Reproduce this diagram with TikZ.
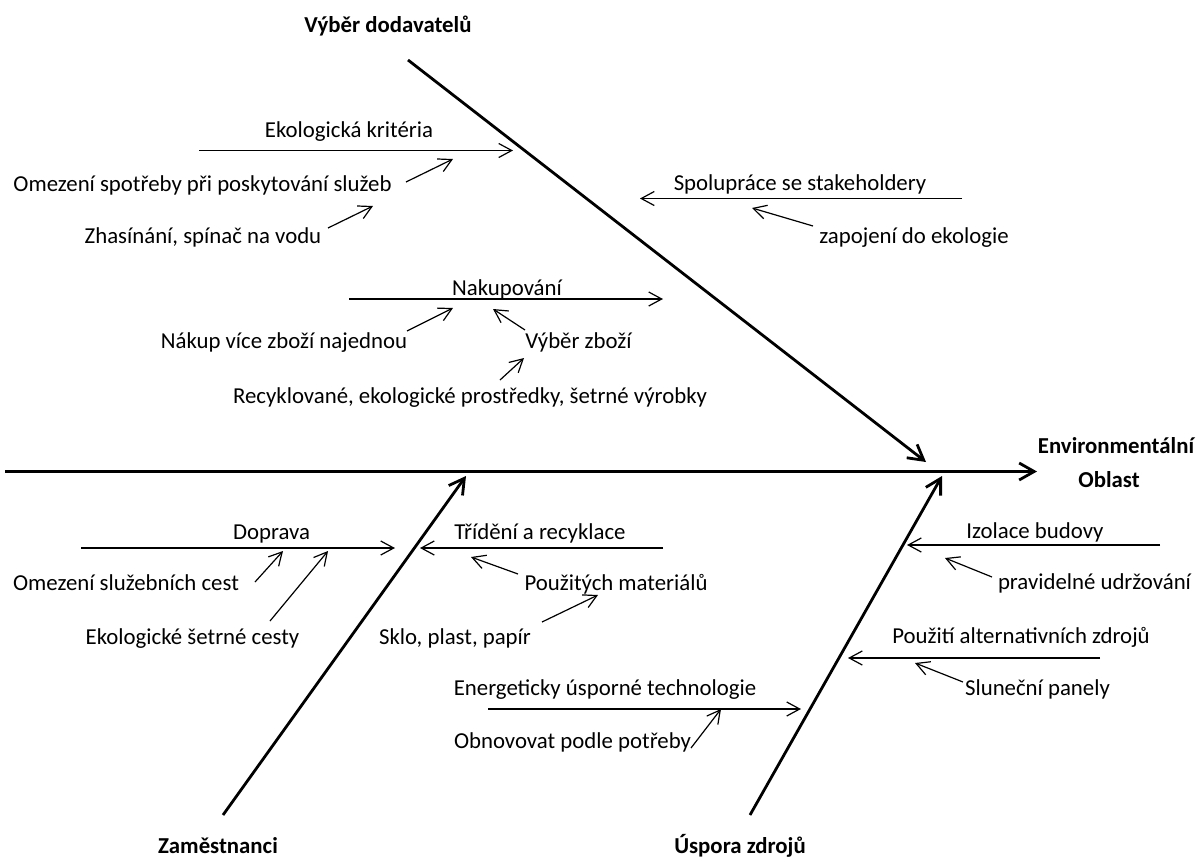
\documentclass[tikz,border=0pt]{standalone}
\usepackage{fontspec}
\setmainfont{Carlito}
\usetikzlibrary{arrows.meta}
\begin{document}
\begin{tikzpicture}[x=1pt,y=-1pt,
  bone/.style={line width=2.8pt,-{Straight Barb[length=15pt,width=17pt]}},
  sub/.style={line width=1.2pt,-{Straight Barb[length=13pt,width=14pt]}},
  lbl/.style={anchor=base,inner sep=0pt,font=\fontsize{22.8}{27}\selectfont},
  head/.style={anchor=base,inner sep=0pt,font=\fontsize{22.8}{27}\selectfont\bfseries}]
\useasboundingbox[fill=white] (0,0) rectangle (1197,857);

% main bones
\coordinate (spineS) at (5,471.5);
\coordinate (spineE) at (1037,471.5);
\coordinate (topS) at (408,60);
\coordinate (topE) at (926,462);
\coordinate (blS) at (223,815);
\coordinate (blE) at (466,476);
\coordinate (brS) at (750,815);
\coordinate (brE) at (942,476);
\draw[bone] (spineS) -- (spineE);
\draw[bone] (topS) -- (topE);
\draw[bone] (blS) -- (blE);
\draw[bone] (brS) -- (brE);

% headings
\node[head] (effect1) at (1116,453) {Environmentální};
\node[head] (effect2) at (1109,487) {Oblast};
\node[head] (hTop) at (388,32) {Výběr dodavatelů};
\node[head] (hBL) at (218,853) {Zaměstnanci};
\node[head] (hBR) at (740,853) {Úspora zdrojů};

% ---- top bone
\node[lbl] (ek) at (349,137) {Ekologická kritéria};
\coordinate (ekS) at (199,150.5); \coordinate (ekE) at (513,150.5);
\draw[sub] (ekS) -- (ekE);
\node[lbl] (om1) at (202.5,191) {Omezení spotřeby při poskytování služeb};
\coordinate (om1S) at (406,182); \coordinate (om1E) at (453,159);
\draw[sub] (om1S) -- (om1E);
\node[lbl] (zh) at (203,243) {Zhasínání, spínač na vodu};
\coordinate (zhS) at (328,228); \coordinate (zhE) at (373,206);
\draw[sub] (zhS) -- (zhE);

\node[lbl] (sp) at (800,190) {Spolupráce se stakeholdery};
\coordinate (spS) at (962,198.5); \coordinate (spE) at (640,198.5);
\draw[sub] (spS) -- (spE);
\node[lbl] (zap) at (914,243) {zapojení do ekologie};
\coordinate (zapS) at (813,226); \coordinate (zapE) at (752,208);
\draw[sub] (zapS) -- (zapE);

\node[lbl] (nak) at (507,295) {Nakupování};
\coordinate (nakS) at (349,299); \coordinate (nakE) at (663,299);
\draw[sub] (nakS) -- (nakE);
\node[lbl] (nakup) at (284,348) {Nákup více zboží najednou};
\coordinate (nakupS) at (407,331); \coordinate (nakupE) at (453,308);
\draw[sub] (nakupS) -- (nakupE);
\node[lbl] (vyb) at (578.5,348) {Výběr zboží};
\coordinate (vybS) at (525,330); \coordinate (vybE) at (493,309);
\draw[sub] (vybS) -- (vybE);
\node[lbl] (rec) at (470,403) {Recyklované, ekologické prostředky, šetrné výrobky};
\coordinate (recS) at (500,380); \coordinate (recE) at (524,358);
\draw[sub] (recS) -- (recE);

% ---- bottom left bone
\node[lbl] (dop) at (271.5,539) {Doprava};
\coordinate (dopS) at (81,548); \coordinate (dopE) at (395,548);
\draw[sub] (dopS) -- (dopE);
\node[lbl] (oms) at (126,590) {Omezení služebních cest};
\coordinate (omsS) at (255,582); \coordinate (omsE) at (283,551);
\draw[sub] (omsS) -- (omsE);
\node[lbl] (eko) at (192.5,644) {Ekologické šetrné cesty};
\coordinate (ekoS) at (270,621); \coordinate (ekoE) at (328,551);
\draw[sub] (ekoS) -- (ekoE);

\node[lbl] (trid) at (540,539) {Třídění a recyklace};
\coordinate (tridS) at (663,548); \coordinate (tridE) at (420,548);
\draw[sub] (tridS) -- (tridE);
\node[lbl] (pouz) at (616,590) {Použitých materiálů};
\coordinate (pouzS) at (518,574); \coordinate (pouzE) at (471,557);
\draw[sub] (pouzS) -- (pouzE);
\node[lbl] (sklo) at (455,644) {Sklo, plast, papír};
\coordinate (skloS) at (542,622); \coordinate (skloE) at (598,595);
\draw[sub] (skloS) -- (skloE);

% ---- bottom right bone
\node[lbl] (izol) at (1035,538) {Izolace budovy};
\coordinate (izolS) at (1160,545); \coordinate (izolE) at (907,545);
\draw[sub] (izolS) -- (izolE);
\node[lbl] (prav) at (1094.5,589) {pravidelné udržování};
\coordinate (pravS) at (992,577); \coordinate (pravE) at (945,558);
\draw[sub] (pravS) -- (pravE);
\node[lbl] (alt) at (1021,643) {Použití alternativních zdrojů};
\coordinate (altS) at (1100,658); \coordinate (altE) at (848,658);
\draw[sub] (altS) -- (altE);
\node[lbl] (slun) at (1037.5,695) {Sluneční panely};
\coordinate (slunS) at (963,682); \coordinate (slunE) at (915,663);
\draw[sub] (slunS) -- (slunE);

\node[lbl] (ener) at (605,695) {Energeticky úsporné technologie};
\coordinate (enerS) at (488,709); \coordinate (enerE) at (801,709);
\draw[sub] (enerS) -- (enerE);
\node[lbl] (obn) at (572.5,748) {Obnovovat podle potřeby};
\coordinate (obnS) at (691,748); \coordinate (obnE) at (721,709);
\draw[sub] (obnS) -- (obnE);
\end{tikzpicture}
\end{document}
